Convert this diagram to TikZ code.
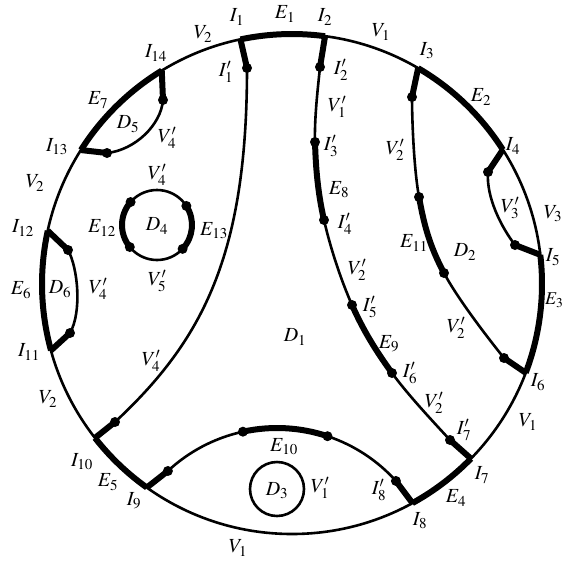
\documentclass[tikz,border=0pt]{standalone}
\usepackage{mathptmx}
\DeclareMathSizes{20}{20}{15}{12}
\DeclareMathSizes{18}{18}{13.5}{11}
\begin{document}
\begin{tikzpicture}[x=1pt,y=-1pt,
  thinl/.style={line width=2.6pt},
  thickl/.style={line width=6pt},
  lab/.style={inner sep=0pt, font=\fontsize{20}{24}\selectfont}]
\useasboundingbox (0,0) rectangle (564,562);
% main circle
\coordinate (C) at (292,284);
\draw[thinl] (C) circle[radius=250];
\path (C) ++(-101.9:250) coordinate (I1);
\path (C) ++(-82.4:250) coordinate (I2);
\path (C) ++(-59.7:250) coordinate (I3);
\path (C) ++(-32.5:250) coordinate (I4);
\path (C) ++(-6.7:250) coordinate (I5);
\path (C) ++(20.8:250) coordinate (I6);
\path (C) ++(44.3:250) coordinate (I7);
\path (C) ++(61.2:250) coordinate (I8);
\path (C) ++(125.5:250) coordinate (I9);
\path (C) ++(142:250) coordinate (I10);
\path (C) ++(164.6:250) coordinate (I11);
\path (C) ++(192.3:250) coordinate (I12);
\path (C) ++(212.4:250) coordinate (I13);
\path (C) ++(238.6:250) coordinate (I14);
% thick boundary arcs
\draw[thickl] (I1) arc[start angle=-101.9, end angle=-82.4, radius=250];
\draw[thickl] (I3) arc[start angle=-59.7, end angle=-32.5, radius=250];
\draw[thickl] (I5) arc[start angle=-6.7, end angle=20.8, radius=250];
\draw[thickl] (I7) arc[start angle=44.3, end angle=61.2, radius=250];
\draw[thickl] (I9) arc[start angle=125.5, end angle=142, radius=250];
\draw[thickl] (I11) arc[start angle=164.6, end angle=192.3, radius=250];
\draw[thickl] (I13) arc[start angle=212.4, end angle=238.6, radius=250];
% interior points
\coordinate (P1) at (247,68);
\coordinate (P2) at (320,67);
\coordinate (P3) at (315,142);
\coordinate (P4) at (324,220);
\coordinate (P5) at (352,305);
\coordinate (P6) at (392,373);
\coordinate (P7) at (450,440);
\coordinate (Q1) at (412,97);
\coordinate (Q2) at (419,197);
\coordinate (Q3) at (444,273);
\coordinate (Q4) at (504,358);
\coordinate (R1) at (488,172);
\coordinate (R2) at (515,245);
\coordinate (S1) at (163,100);
\coordinate (S2) at (107,153);
\coordinate (T1) at (68,250);
\coordinate (T2) at (70,333);
\coordinate (L1) at (115,422);
\coordinate (BC) at (277,588);
\path (BC) ++(-133:160) coordinate (U1);
\path (BC) ++(-102.3:160) coordinate (U2);
\path (BC) ++(-71.6:160) coordinate (U3);
\path (BC) ++(-42:160) coordinate (U4);
% left big curve
\draw[thickl] (I1) -- (P1);
\draw[thinl] (P1) .. controls (247,255) and (203,340) .. (L1);
\draw[thickl] (L1) -- (I10);
% middle curve
\draw[thickl] (I2) -- (P2);
\draw[thinl] (P2) .. controls (318.3,84.3) and (314.3,116.5) .. (P3);
\draw[thickl] (P3) .. controls (315.7,167.5) and (317.8,192.8) .. (P4);
\draw[thinl] (P4) .. controls (330.2,247.2) and (340.7,279.5) .. (P5);
\draw[thickl] (P5) .. controls (363.3,330.5) and (375.7,350.5) .. (P6);
\draw[thinl] (P6) .. controls (408.3,395.5) and (437,425.8) .. (P7);
\draw[thickl] (P7) -- (I7);
% right curve
\draw[thickl] (I3) -- (Q1);
\draw[thinl] (Q1) .. controls (412,118.7) and (413.7,167.7) .. (Q2);
\draw[thickl] (Q2) .. controls (424.3,226.3) and (429.8,246.2) .. (Q3);
\draw[thinl] (Q3) .. controls (458.2,299.8) and (490.7,341.5) .. (Q4);
\draw[thickl] (Q4) -- (I6);
% V3' loop
\draw[thickl] (I4) -- (R1);
\draw[thinl] (R1) .. controls (486,198) and (502,228) .. (R2);
\draw[thickl] (R2) -- (I5);
% D5 loop
\draw[thickl] (I14) -- (S1);
\draw[thinl] (S1) .. controls (161,125) and (135,150) .. (S2);
\draw[thickl] (S2) -- (I13);
% D6 loop
\draw[thickl] (I12) -- (T1);
\draw[thinl] (T1) .. controls (78,268) and (82,312) .. (T2);
\draw[thickl] (T2) -- (I11);
% bottom curve
\draw[thickl] (I9) -- (U1);
\draw[thinl] (U1) arc[start angle=-133, end angle=-102.3, radius=160];
\draw[thickl] (U2) arc[start angle=-102.3, end angle=-71.6, radius=160];
\draw[thinl] (U3) arc[start angle=-71.6, end angle=-42, radius=160];
\draw[thickl] (U4) -- (I8);
% D4 circle
\coordinate (D4c) at (157,225);
\draw[thinl] (D4c) circle[radius=35];
\path (D4c) ++(141:35) coordinate (W1);
\path (D4c) ++(221:35) coordinate (W2);
\path (D4c) ++(-33:35) coordinate (W3);
\path (D4c) ++(43:35) coordinate (W4);
\draw[thickl] (W1) arc[start angle=141, end angle=221, radius=35];
\draw[thickl] (W3) arc[start angle=-33, end angle=43, radius=35];
% D3 circle
\coordinate (D3c) at (277,489);
\draw[thinl] (D3c) circle[radius=27];
% dots
\foreach \p in {P1,P2,P3,P4,P5,P6,P7,Q1,Q2,Q3,Q4,R1,R2,S1,S2,T1,T2,L1,U1,U2,U3,U4,W1,W2,W3,W4}
  \fill (\p) circle[radius=5];
% labels
\node[lab] (lE1) at (285,14) {$E_1$};
\node[lab] (lI1) at (237,17) {$I_1$};
\node[lab] (lI2) at (325,17) {$I_2$};
\node[lab] (lV1a) at (381,32) {$V_1$};
\node[lab] (lV2a) at (203,34) {$V_2$};
\node[lab] (lI14) at (156,53) {$I_{14}$};
\node[lab] (lI1p) at (226,72) {$I'_1$};
\node[lab] (lI2p) at (341,70) {$I'_2$};
\node[lab] (lI3) at (427,51) {$I_3$};
\node[lab] (lE7) at (98,100) {$E_7$};
\node[lab] (lE2) at (481,97) {$E_2$};
\node[lab] (lV1p) at (337,107) {$V'_1$};
\node[lab] (lD5) at (128,124) {$D_5$};
\node[lab] (lV4a) at (167,138) {$V'_4$};
\node[lab] (lI13) at (57,147) {$I_{13}$};
\node[lab] (lI3p) at (331,146) {$I'_3$};
\node[lab] (lI4) at (513,146) {$I_4$};
\node[lab] (lV2pa) at (395,150) {$V'_2$};
\node[lab] (lV4b) at (157,175) {$V'_4$};
\node[lab] (lV2b) at (35,183) {$V_2$};
\node[lab] (lE8) at (339,190) {$E_8$};
\node[lab] (lV3p) at (510,208) {$V'_3$};
\node[lab] (lV3) at (553,214) {$V_3$};
\node[lab] (lI4p) at (345,224) {$I'_4$};
\node[lab] (lI12) at (23,228) {$I_{12}$};
\node[lab] (lE12) at (102,228) {$E_{12}$};
\node[lab] (lD4) at (157,226) {$D_4$};
\node[lab] (lE13) at (214,231) {$E_{13}$};
\node[lab] (lE11) at (414,243) {$E_{11}$};
\node[lab] (lD2) at (465,252) {$D_2$};
\node[lab] (lI5) at (553,257) {$I_5$};
\node[lab] (lV2pb) at (357,270) {$V'_2$};
\node[lab] (lV5p) at (157,281) {$V'_5$};
\node[lab] (lE6) at (21,290) {$E_6$};
\node[lab] (lD6) at (60,289) {$D_6$};
\node[lab] (lV4c) at (98,289) {$V'_4$};
\node[lab, anchor=east, font=\fontsize{18}{22}\selectfont] (lE3) at (563.5,300) {$E_3$};
\node[lab] (lI5p) at (370,307) {$I'_5$};
\node[lab] (lV2pc) at (456,328) {$V'_2$};
\node[lab] (lD1) at (295,337) {$D_1$};
\node[lab] (lE9) at (389,344) {$E_9$};
\node[lab] (lI11) at (29,352) {$I_{11}$};
\node[lab] (lV4d) at (151,361) {$V'_4$};
\node[lab] (lI6p) at (410,373) {$I'_6$};
\node[lab] (lI6) at (538,382) {$I_6$};
\node[lab] (lV2c) at (48,399) {$V_2$};
\node[lab] (lV2pd) at (434,403) {$V'_2$};
\node[lab] (lV1b) at (528,422) {$V_1$};
\node[lab] (lI7p) at (464,430) {$I'_7$};
\node[lab] (lE10) at (284,447) {$E_{10}$};
\node[lab] (lI10) at (82,462) {$I_{10}$};
\node[lab] (lI7) at (482,475) {$I_7$};
\node[lab] (lE5) at (108,482) {$E_5$};
\node[lab] (lD3) at (277,491) {$D_3$};
\node[lab] (lV1pb) at (320,488) {$V'_1$};
\node[lab] (lI8p) at (379,490) {$I'_8$};
\node[lab] (lE4) at (456,498) {$E_4$};
\node[lab] (lI9) at (134,501) {$I_9$};
\node[lab] (lI8) at (420,521) {$I_8$};
\node[lab] (lV1c) at (238,548) {$V_1$};
\end{tikzpicture}
\end{document}
